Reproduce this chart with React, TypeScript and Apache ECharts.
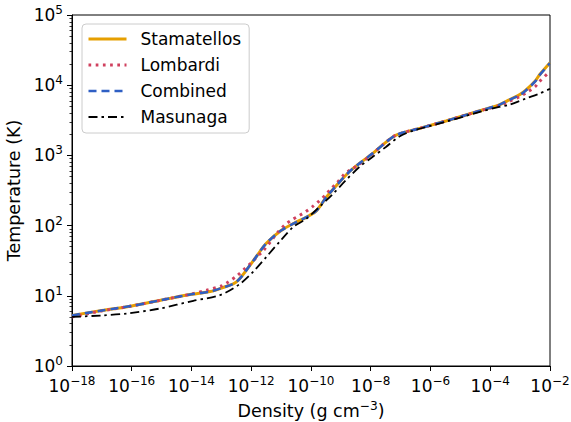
import React, { useEffect, useRef } from "react";
import * as echarts from "echarts";

// Density (g cm^-3) and temperature (K)
const densStamatellos = [1e-18, 1e-17, 1e-16, 1e-15, 1e-14, 4.2e-14, 1e-13, 3.2e-13, 1e-12, 1.6e-12, 3.2e-12, 1e-11, 3.2e-11, 7.1e-11, 1.5e-10, 3.2e-10, 7.1e-10, 1.95e-9, 4.3e-9, 1.17e-8, 2.5e-8, 7.1e-8, 4.3e-7, 3.3e-6, 5.5e-5, 2e-4, 4.3e-4, 1e-3, 1.55e-3, 3.2e-3, 4.4e-3, 1e-2];
const tempStamatellos = [5.25, 6.17, 7.16, 8.71, 10.5, 11.5, 12.9, 15.8, 28.8, 38, 56, 85, 112, 132, 162, 251, 372, 589, 776, 1070, 1410, 1950, 2430, 3090, 4440, 5250, 6170, 7410, 8510, 11500, 13960, 20900];

const densLombardi = [1e-18, 1e-17, 1e-16, 1e-15, 1e-14, 3.2e-14, 1e-13, 1.48e-13, 3.2e-13, 6.2e-13, 1e-12, 1.58e-12, 2.5e-12, 5.4e-12, 7.9e-12, 1.32e-11, 2.24e-11, 3.98e-11, 6.6e-11, 1.12e-10, 1.86e-10, 3.1e-10, 4.8e-10, 7.4e-10, 1.17e-9, 1.86e-9, 3.7e-9, 1.05e-8, 2.5e-8, 7.1e-8, 4.3e-7, 3.3e-6, 5.5e-5, 2e-4, 4.3e-4, 1e-3, 1.55e-3, 3.2e-3, 4.4e-3, 1e-2];
const tempLombardi = [5.0, 6.1, 7.16, 8.71, 10.6, 12.0, 13.8, 15.1, 19, 24.5, 29.5, 36.3, 43.6, 66, 81, 102, 120, 138, 158, 186, 224, 275, 339, 407, 513, 603, 724, 1023, 1410, 1950, 2430, 3090, 4420, 5130, 5890, 6920, 7760, 9550, 11200, 15800];

const densCombined = [1e-18, 1e-17, 1e-16, 1e-15, 1e-14, 4.2e-14, 1e-13, 3.2e-13, 1e-12, 1.6e-12, 3.2e-12, 1e-11, 3.2e-11, 7.1e-11, 1.5e-10, 3.2e-10, 7.1e-10, 1.95e-9, 4.3e-9, 1.17e-8, 2.5e-8, 7.1e-8, 4.3e-7, 3.3e-6, 5.5e-5, 2e-4, 4.3e-4, 1e-3, 1.55e-3, 3.2e-3, 4.4e-3, 1e-2];
const tempCombined = [5.25, 6.17, 7.16, 8.71, 10.5, 11.5, 12.9, 15.8, 28.8, 38, 56, 85, 112, 132, 162, 251, 372, 589, 776, 1070, 1410, 1950, 2430, 3090, 4440, 5250, 6170, 7300, 8400, 11300, 13800, 20600];

const densMasunaga = [1e-18, 1e-17, 6.9e-17, 8.9e-16, 1.15e-14, 8.9e-14, 4.2e-13, 1.15e-12, 3.24e-12, 8.9e-12, 2.5e-11, 7.1e-11, 1.95e-10, 5.4e-10, 1.5e-9, 4.3e-9, 1.17e-8, 3.3e-8, 9.1e-8, 2.57e-7, 3.3e-6, 5.5e-5, 2e-4, 4.3e-4, 1.55e-3, 4.4e-3, 1e-2];
const tempMasunaga = [5.0, 5.25, 5.6, 6.6, 8.5, 10.2, 14.8, 21.9, 36, 59, 95, 126, 186, 282, 447, 692, 955, 1330, 1860, 2240, 3020, 4270, 4900, 5250, 6460, 7590, 8910];

const xTicks = [1e-18, 1e-16, 1e-14, 1e-12, 1e-10, 1e-8, 1e-6, 1e-4, 1e-2];
const yTicks = [1, 10, 100, 1000, 10000, 100000];
const yMinorTicks = [2, 3, 4, 5, 6, 7, 8, 9, 20, 30, 40, 50, 60, 70, 80, 90, 200, 300, 400, 500, 600, 700, 800, 900, 2000, 3000, 4000, 5000, 6000, 7000, 8000, 9000, 20000, 30000, 40000, 50000, 60000, 70000, 80000, 90000];

const FONT = "DejaVu Sans";

function pow10Label(v: number): string {
  const e = Math.round(Math.log10(v));
  const s = e < 0 ? "\u2212" + -e : String(e);
  return "{b|10}{s|" + s + "}";
}

const richTick = {
  b: { fontSize: 17, lineHeight: 22, fontFamily: FONT, color: "#000" },
  s: { fontSize: 12, lineHeight: 14, verticalAlign: "top", fontFamily: FONT, color: "#000" },
};
const richName = {
  b: { fontSize: 17.5, lineHeight: 22, fontFamily: FONT, color: "#000" },
  s: { fontSize: 12.2, lineHeight: 14, verticalAlign: "top", fontFamily: FONT, color: "#000" },
};

function zip(xs: number[], ys: number[]) {
  return xs.map((x, i) => [x, ys[i]]);
}

const styles = {
  Stamatellos: { color: "#E69F00", width: 3, type: "solid" as any },
  Lombardi: { color: "#D0405E", width: 3, type: [2.7, 4.5] as any },
  Combined: { color: "#2F5FC4", width: 2.6, type: [8, 5] as any },
  Masunaga: { color: "#000", width: 1.8, type: [9, 4, 2.5, 4] as any },
};

export default function App() {
  const ref = useRef<HTMLDivElement>(null);
  useEffect(() => {
    if (!ref.current) return;
    const chart = echarts.init(ref.current, undefined, { renderer: "svg" });
    const names = ["Stamatellos", "Lombardi", "Combined", "Masunaga"] as const;
    const datas = [
      zip(densStamatellos, tempStamatellos),
      zip(densLombardi, tempLombardi),
      zip(densCombined, tempCombined),
      zip(densMasunaga, tempMasunaga),
    ];
    chart.setOption({
      animation: false,
      backgroundColor: "#fff",
      grid: {
        left: 72,
        top: 15,
        right: 21,
        bottom: 56,
        show: true,
        borderColor: "#000",
        borderWidth: 1,
        containLabel: false,
        outerBoundsMode: "none",
      },
      legend: {
        orient: "vertical",
        left: 82,
        top: 24,
        padding: [5, 8, 6, 5],
        itemWidth: 38,
        itemHeight: 14,
        itemGap: 6,
        borderColor: "#cccccc",
        borderWidth: 1,
        borderRadius: 4,
        backgroundColor: "rgba(255,255,255,0.8)",
        itemStyle: { opacity: 0 },
        textStyle: {
          fontFamily: FONT,
          fontSize: 17,
          lineHeight: 20,
          color: "#000",
          padding: [0, 0, 0, 9],
        },
        data: names.map((n) => ({
          name: n,
          lineStyle: { color: styles[n].color, width: styles[n].width, type: styles[n].type, cap: "butt" },
        })),
      },
      xAxis: {
        type: "log",
        logBase: 10,
        min: 1e-18,
        max: 1e-2,
        name: "{b|Density (g cm}{s|\u22123}{b|)}",
        nameLocation: "middle",
        nameGap: 34,
        nameTextStyle: { rich: richName },
        axisLine: { show: true, lineStyle: { color: "#000", width: 1 } },
        axisTick: { show: true, length: 5, customValues: xTicks, lineStyle: { color: "#000", width: 1 } },
        axisLabel: {
          customValues: xTicks,
          margin: 9,
          formatter: (v: number) => pow10Label(v),
          rich: richTick,
          showMinLabel: true,
          showMaxLabel: true,
        },
        splitLine: { show: false },
        minorTick: { show: false },
      },
      yAxis: [
        {
          type: "log",
          logBase: 10,
          min: 1,
          max: 1e5,
          name: "Temperature (K)",
          nameLocation: "middle",
          nameGap: 46,
          nameRotate: 90,
          nameTextStyle: { fontFamily: FONT, fontSize: 17.5, color: "#000" },
          axisLine: { show: true, lineStyle: { color: "#000", width: 1 } },
          axisTick: { show: true, length: 5, customValues: yTicks, lineStyle: { color: "#000", width: 1 } },
          axisLabel: {
            customValues: yTicks,
            margin: 9,
            formatter: (v: number) => pow10Label(v),
            rich: richTick,
            showMinLabel: true,
            showMaxLabel: true,
          },
          splitLine: { show: false },
        },
        {
          type: "log",
          logBase: 10,
          min: 1,
          max: 1e5,
          position: "left",
          axisLine: { show: false },
          axisTick: { show: true, length: 2.5, customValues: yMinorTicks, lineStyle: { color: "#000", width: 0.8 } },
          axisLabel: { show: false },
          splitLine: { show: false },
        },
      ],
      series: names.map((n, i) => ({
        name: n,
        type: "line",
        smooth: 0.3,
        symbol: "none",
        showSymbol: false,
        data: datas[i],
        lineStyle: { color: styles[n].color, width: styles[n].width, type: styles[n].type, cap: "butt" },
        itemStyle: { color: styles[n].color },
      })),
    });
    return () => chart.dispose();
  }, []);
  return (
    <div
      ref={ref}
      style={{ position: "fixed", left: 0, top: 0, width: 571, height: 422, background: "#fff" }}
    />
  );
}
